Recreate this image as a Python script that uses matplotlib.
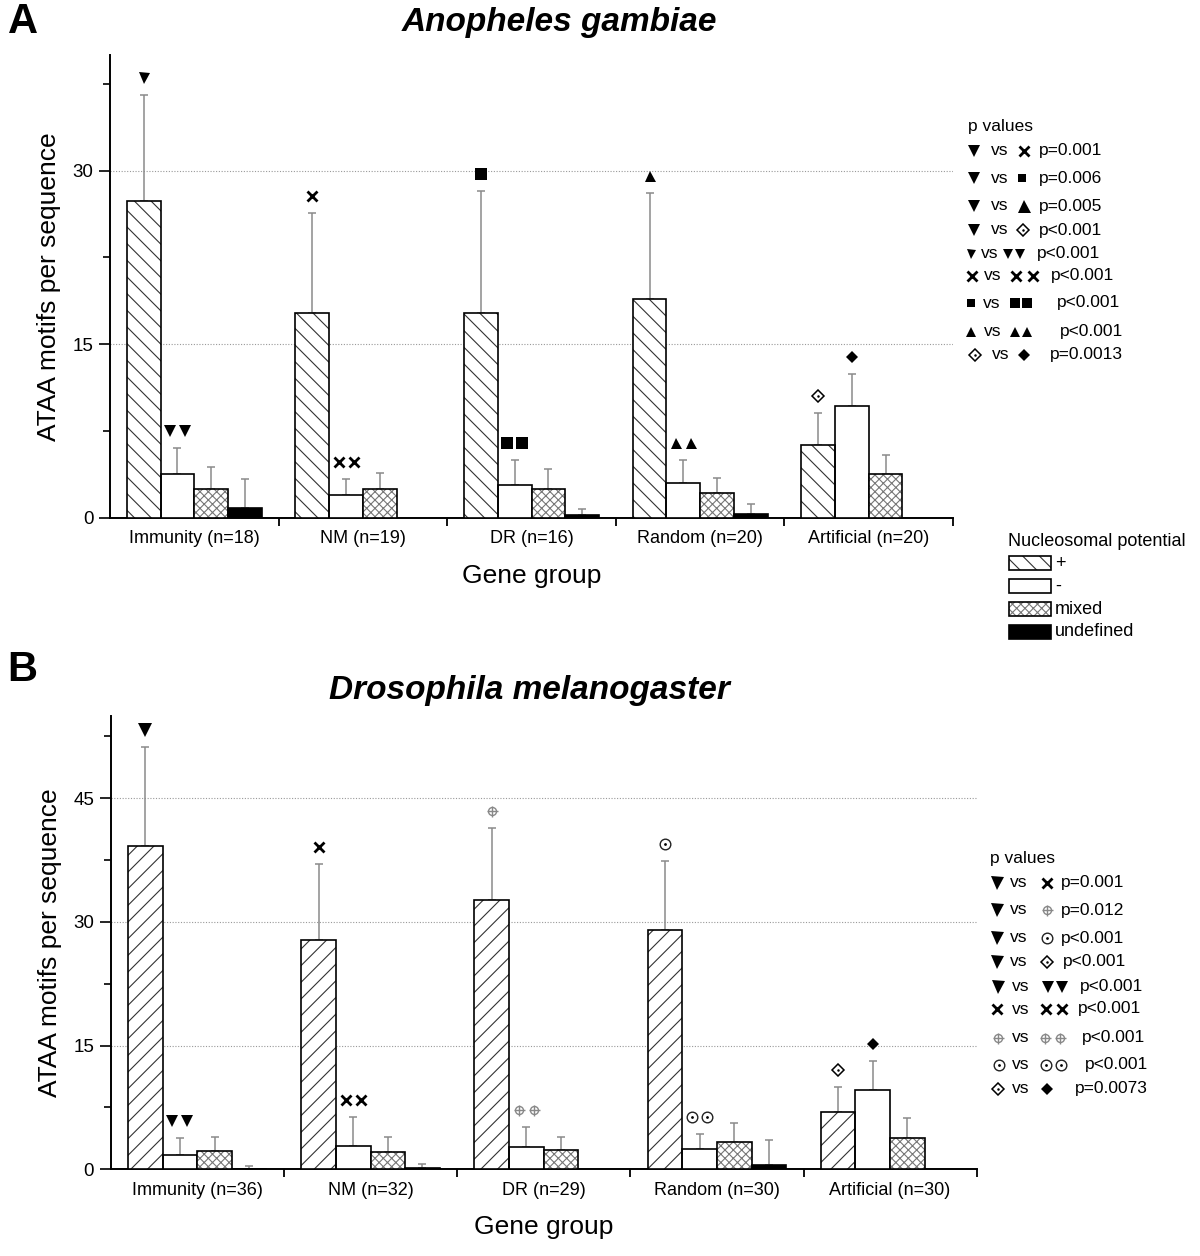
import numpy as np
import matplotlib
matplotlib.use('Agg')
import matplotlib.pyplot as plt
from matplotlib.transforms import offset_copy
from matplotlib.patches import Rectangle

plt.rcParams['font.family'] = ['Liberation Sans', 'DejaVu Sans']
plt.rcParams['hatch.linewidth'] = 0.8

nan = np.nan

# ---------------- data ----------------
groups_a = ['Immunity (n=18)', 'NM (n=19)', 'DR (n=16)', 'Random (n=20)', 'Artificial (n=20)']
groups_b = ['Immunity (n=36)', 'NM (n=32)', 'DR (n=29)', 'Random (n=30)', 'Artificial (n=30)']
series_names = ['+', '-', 'mixed', 'undefined']

# Panel A (Anopheles gambiae): means and upper SD
a_plus = [27.4, 17.7, 17.7, 18.9, 6.26]
a_plus_sd = [9.15, 8.65, 10.55, 9.2, 2.8]
a_minus = [3.76, 1.96, 2.82, 2.96, 9.65]
a_minus_sd = [2.3, 1.4, 2.15, 2.0, 2.8]
a_mixed = [2.44, 2.47, 2.5, 2.1, 3.82]
a_mixed_sd = [1.96, 1.41, 1.72, 1.35, 1.64]
a_undef = [0.86, nan, 0.2, 0.32, nan]
a_undef_sd = [2.5, nan, 0.52, 0.83, nan]

# Panel B (Drosophila melanogaster)
b_plus = [39.2, 27.8, 32.7, 29.0, 6.9]
b_plus_sd = [12.05, 9.22, 8.73, 8.45, 3.03]
b_minus = [1.77, 2.87, 2.7, 2.42, 9.62]
b_minus_sd = [1.98, 3.51, 2.39, 1.82, 3.52]
b_mixed = [2.22, 2.14, 2.34, 3.35, 3.84]
b_mixed_sd = [1.74, 1.82, 1.62, 2.31, 2.34]
b_undef = [0.08, 0.12, nan, 0.52, nan]
b_undef_sd = [0.36, 0.52, nan, 3.08, nan]

# significance symbols: (group index, series index, symbol, count)
sig_a = [(0, 0, 'tri', 1), (0, 1, 'tri', 2), (1, 0, 'x', 1), (1, 1, 'x', 2),
         (2, 0, 'sq', 1), (2, 1, 'sq', 2), (3, 0, 'up', 1), (3, 1, 'up', 2),
         (4, 0, 'dd', 1), (4, 1, 'dia', 1)]
sig_b = [(0, 0, 'tri', 1), (0, 1, 'tri', 2), (1, 0, 'x', 1), (1, 1, 'x', 2),
         (2, 0, 'cross', 1), (2, 1, 'cross', 2), (3, 0, 'odot', 1), (3, 1, 'odot', 2),
         (4, 0, 'dd', 1), (4, 1, 'dia', 1)]

pvals_a = ['p=0.001', 'p=0.006', 'p=0.005', 'p<0.001', 'p<0.001', 'p<0.001',
           'p<0.001', 'p<0.001', 'p=0.0013']
pvals_b = ['p=0.001', 'p=0.012', 'p<0.001', 'p<0.001', 'p<0.001', 'p<0.001',
           'p<0.001', 'p<0.001', 'p=0.0073']

# ---------------- figure ----------------
DPI = 100
fig = plt.figure(figsize=(12, 12.56), dpi=DPI)
PX = 72.0 / DPI  # points per pixel


def symbol(ax, trans, x, y, kind, px):
    """Draw one symbol of width ~px pixels at (x, y) in transform trans."""
    s = px * PX
    kw = dict(ls='none', transform=trans, clip_on=False, zorder=6)
    if kind == 'tri':
        ax.plot([x], [y], marker='v', ms=s, color='black', mew=0, **kw)
    elif kind == 'up':
        ax.plot([x], [y], marker='^', ms=s, color='black', mew=0, **kw)
    elif kind == 'sq':
        ax.plot([x], [y], marker='s', ms=s * 0.95, color='black', mew=0, **kw)
    elif kind == 'x':
        ax.plot([x], [y], marker='x', ms=s * 0.85, color='black', mew=2.0, **kw)
    elif kind == 'dia':
        ax.plot([x], [y], marker='D', ms=s / 1.414, color='black', mew=0, **kw)
    elif kind == 'dd':
        ax.plot([x], [y], marker='D', ms=s / 1.414 - 0.4, mfc='white', mec='black', mew=1.1, **kw)
        ax.plot([x], [y], marker='o', ms=1.8, color='black', mew=0, **kw)
    elif kind == 'odot':
        ax.plot([x], [y], marker='o', ms=s - 1, mfc='white', mec='#222222', mew=1.0, **kw)
        ax.plot([x], [y], marker='o', ms=2.0, color='black', mew=0, **kw)
    elif kind == 'cross':
        ax.plot([x], [y], marker='o', ms=s * 0.8, mfc='none', mec='#888888', mew=1.0, **kw)
        ax.plot([x], [y], marker='+', ms=s * 1.1, color='#888888', mew=1.0, **kw)


def draw_panel(ax, groups, plus, plus_sd, minus, minus_sd, mixed, mixed_sd,
               undef, undef_sd, hatch_plus, ymax, major, sigs, sizes):
    x = np.arange(len(groups))
    w = 0.2
    offs = [-0.3, -0.1, 0.1, 0.3]
    vals = [plus, minus, mixed, undef]
    sds = [plus_sd, minus_sd, mixed_sd, undef_sd]
    styles = [dict(fc='white', hatch=hatch_plus, hc='#333333'),
              dict(fc='white', hatch=None, hc=None),
              dict(fc='white', hatch='xxxx', hc='#777777'),
              dict(fc='black', hatch=None, hc=None)]
    for v, sd, off, st in zip(vals, sds, offs, styles):
        v = np.asarray(v, float)
        sd = np.asarray(sd, float)
        m = ~np.isnan(v)
        xp = x[m] + off
        if st['hatch']:
            ax.bar(xp, v[m], w, color=st['fc'], edgecolor=st['hc'], hatch=st['hatch'],
                   linewidth=0, zorder=3)
            ax.bar(xp, v[m], w, fill=False, edgecolor='black', linewidth=1.2, zorder=3.5)
        else:
            ax.bar(xp, v[m], w, color=st['fc'], edgecolor='black', linewidth=1.2, zorder=3)
        ax.errorbar(xp, v[m], yerr=[np.zeros(m.sum()), sd[m]], fmt='none',
                    ecolor='#8a8a8a', elinewidth=1.1, capsize=3.2, capthick=1.1, zorder=2)

    ax.set_xlim(-0.5, len(groups) - 0.5)
    ax.set_ylim(0, ymax)
    ax.set_xticks(x)
    ax.set_xticklabels(groups, fontsize=13)
    ax.set_xticks(np.arange(len(groups)) + 0.5, minor=True)
    ax.tick_params(axis='x', which='major', length=0, pad=9)
    ax.tick_params(axis='x', which='minor', length=6, width=1.3, direction='out')
    ax.set_yticks(major)
    ax.set_yticks(np.arange(7.5, ymax, 15), minor=True)
    ax.tick_params(axis='y', which='major', length=8, width=1.2, labelsize=13.5, pad=4)
    ax.tick_params(axis='y', which='minor', length=5, width=1.2)
    for sp in ['top', 'right']:
        ax.spines[sp].set_visible(False)
    for sp in ['left', 'bottom']:
        ax.spines[sp].set_linewidth(1.4)
    ax.yaxis.grid(True, which='major', linestyle=(0, (1, 1.5)), color='#999999', linewidth=0.8)
    ax.set_axisbelow(True)
    ax.set_ylabel('ATAA motifs per sequence', fontsize=19, labelpad=8)
    ax.set_xlabel('Gene group', fontsize=19, labelpad=12)

    for gi, si, kind, n in sigs:
        top = vals[si][gi] + sds[si][gi]
        xc = x[gi] + offs[si]
        px = sizes[kind][0] if n == 1 else sizes[kind][1]
        dxs = [0] if n == 1 else [-7.5, 7.5]
        for dx in dxs:
            tr = offset_copy(ax.transData, fig=fig, x=dx, y=17, units='dots')
            symbol(ax, tr, xc, top, kind, px)


# panel A
axA = fig.add_axes([110 / 1200, 1 - 517.7 / 1256, 843 / 1200, 462.7 / 1256])
sizes_a = {'tri': (11, 11.5), 'x': (12, 12), 'sq': (12, 12), 'up': (11, 11),
           'dd': (12.5, 12.5), 'dia': (11.5, 11.5)}
draw_panel(axA, groups_a, a_plus, a_plus_sd, a_minus, a_minus_sd, a_mixed, a_mixed_sd,
           a_undef, a_undef_sd, '\\\\', 40, [0, 15, 30], sig_a, sizes_a)

# panel B
axB = fig.add_axes([110.7 / 1200, 1 - 1169.3 / 1256, 866 / 1200, 453.5 / 1256])
sizes_b = {'tri': (13.5, 12), 'x': (12, 12), 'cross': (10, 10), 'odot': (12, 12),
           'dd': (13, 13), 'dia': (12, 12)}
draw_panel(axB, groups_b, b_plus, b_plus_sd, b_minus, b_minus_sd, b_mixed, b_mixed_sd,
           b_undef, b_undef_sd, '//', 55, [0, 15, 30, 45], sig_b, sizes_b)

# ---------------- overlay (pixel coordinates) ----------------
ov = fig.add_axes([0, 0, 1, 1], zorder=10)
ov.set_xlim(0, 1200)
ov.set_ylim(1256, 0)
ov.axis('off')

ov.text(23, 22, 'A', fontsize=30, fontweight='bold', ha='center', va='center')
ov.text(22, 670, 'B', fontsize=30, fontweight='bold', ha='center', va='center')
ov.text(559, 23, 'Anopheles gambiae', fontsize=24, fontweight='bold', style='italic',
        ha='center', va='center')
ov.text(529, 691, 'Drosophila melanogaster', fontsize=24, fontweight='bold', style='italic',
        ha='center', va='center')

FS = 12.5


def legend_rows(rows, pvals, header_xy):
    ov.text(header_xy[0], header_xy[1], 'p values', fontsize=FS, ha='left', va='center')
    for (y, left, vs_x, right, p_x), ptxt in zip(rows, pvals):
        for kind, xc, px in left:
            symbol(ov, ov.transData, xc, y, kind, px)
        ov.text(vs_x, y, 'vs', fontsize=FS, ha='left', va='center')
        for kind, xc, px in right:
            symbol(ov, ov.transData, xc, y, kind, px)
        ov.text(p_x, y, ptxt, fontsize=FS, ha='left', va='center')


rows_a = [
    (150.7, [('tri', 974, 12)], 991, [('x', 1024, 11)], 1039),
    (178.3, [('tri', 974, 12)], 991, [('sq', 1022, 9)], 1039),
    (206.0, [('tri', 974, 12)], 991, [('up', 1024, 13)], 1039),
    (230.0, [('tri', 974, 12)], 991, [('dd', 1023, 13)], 1039),
    (253.5, [('tri', 971, 9)], 981, [('tri', 1008, 10), ('tri', 1020, 10)], 1037),
    (275.5, [('x', 972, 11)], 984, [('x', 1016, 11), ('x', 1033, 11)], 1051),
    (303.0, [('sq', 971, 8.5)], 983, [('sq', 1015, 10), ('sq', 1027, 10)], 1057),
    (331.5, [('up', 971, 10.5)], 984, [('up', 1015, 10), ('up', 1027, 10)], 1060),
    (354.5, [('dd', 975, 13)], 992, [('dia', 1024, 12)], 1050),
]
legend_rows(rows_a, pvals_a, (968, 127))

rows_b = [
    (882.7, [('tri', 997, 13)], 1010, [('x', 1047, 11)], 1061),
    (910.0, [('tri', 997, 13)], 1010, [('cross', 1047, 10)], 1061),
    (938.0, [('tri', 997, 13)], 1010, [('odot', 1047, 12)], 1061),
    (961.7, [('tri', 997, 13)], 1010, [('dd', 1047, 13)], 1063),
    (986.7, [('tri', 998, 13)], 1012, [('tri', 1048, 12), ('tri', 1062, 12)], 1080),
    (1009.0, [('x', 997, 11)], 1012, [('x', 1046, 11), ('x', 1062, 11)], 1078),
    (1037.5, [('cross', 998, 10)], 1012, [('cross', 1045, 10), ('cross', 1060, 10)], 1082),
    (1064.5, [('odot', 999, 12)], 1012, [('odot', 1046, 12), ('odot', 1061, 12)], 1085),
    (1088.5, [('dd', 998, 13)], 1012, [('dia', 1047, 12)], 1075),
]
legend_rows(rows_b, pvals_b, (990, 858))

# Nucleosomal potential legend
ov.text(1008, 541, 'Nucleosomal potential', fontsize=13, ha='left', va='center')
leg_rows = [(556, 'white', '\\\\', '#333333'), (579, 'white', None, None),
            (602, 'white', 'xxxx', '#777777'), (625, 'black', None, None)]
for (ytop, fc, hatch, hc), lab in zip(leg_rows, series_names):
    if hatch:
        ov.add_patch(Rectangle((1009, ytop), 42, 14, facecolor=fc, edgecolor=hc,
                               hatch=hatch, linewidth=0))
        ov.add_patch(Rectangle((1009, ytop), 42, 14, fill=False, edgecolor='black',
                               linewidth=1.2))
    else:
        ov.add_patch(Rectangle((1009, ytop), 42, 14, facecolor=fc, edgecolor='black',
                               linewidth=1.2))
    ov.text(1055, ytop + 7, lab, fontsize=13, ha='left', va='center')

fig.savefig('out.png', dpi=DPI)
